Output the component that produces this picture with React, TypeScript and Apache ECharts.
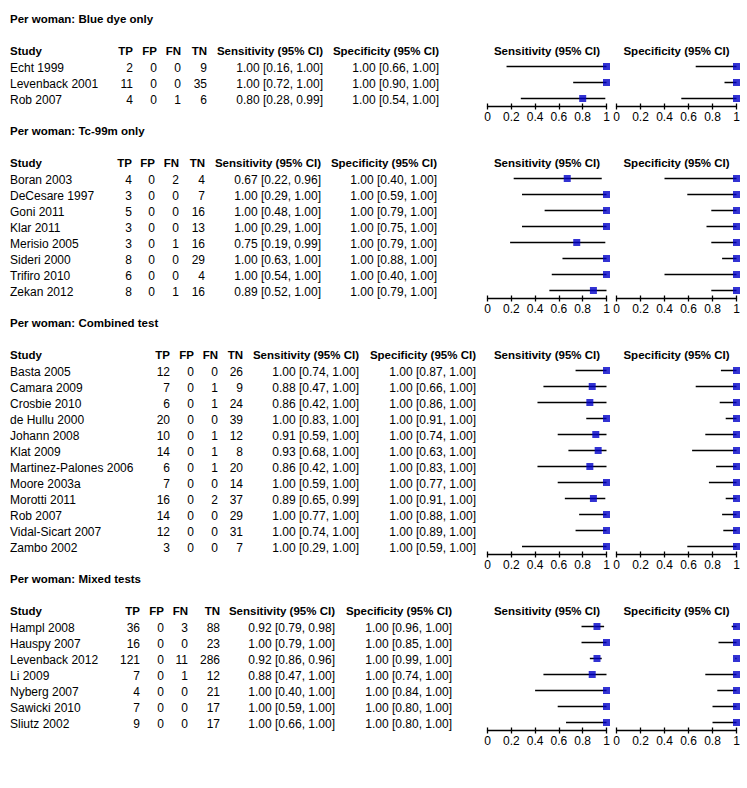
import React, { useEffect, useRef } from "react";
import * as echarts from "echarts";

// ---------- DATA ----------
const sectionTitles = [
  "Per woman: Blue dye only",
  "Per woman: Tc-99m only",
  "Per woman: Combined test",
  "Per woman: Mixed tests",
];

const tableHeaders = ["TP", "FP", "FN", "TN", "Sensitivity (95% CI)", "Specificity (95% CI)"];
const plotHeaders = ["Sensitivity (95% CI)", "Specificity (95% CI)"];
const tickValues = [0, 0.2, 0.4, 0.6, 0.8, 1];

// Blue dye only
const blueStudies = ["Echt 1999", "Levenback 2001", "Rob 2007"];
const blueTP = [2, 11, 4];
const blueFP = [0, 0, 0];
const blueFN = [0, 0, 1];
const blueTN = [9, 35, 6];
const blueSens = [1.0, 1.0, 0.8];
const blueSensLo = [0.16, 0.72, 0.28];
const blueSensHi = [1.0, 1.0, 0.99];
const blueSpec = [1.0, 1.0, 1.0];
const blueSpecLo = [0.66, 0.9, 0.54];
const blueSpecHi = [1.0, 1.0, 1.0];

// Tc-99m only
const tcStudies = ["Boran 2003", "DeCesare 1997", "Goni 2011", "Klar 2011", "Merisio 2005", "Sideri 2000", "Trifiro 2010", "Zekan 2012"];
const tcTP = [4, 3, 5, 3, 3, 8, 6, 8];
const tcFP = [0, 0, 0, 0, 0, 0, 0, 0];
const tcFN = [2, 0, 0, 0, 1, 0, 0, 1];
const tcTN = [4, 7, 16, 13, 16, 29, 4, 16];
const tcSens = [0.67, 1.0, 1.0, 1.0, 0.75, 1.0, 1.0, 0.89];
const tcSensLo = [0.22, 0.29, 0.48, 0.29, 0.19, 0.63, 0.54, 0.52];
const tcSensHi = [0.96, 1.0, 1.0, 1.0, 0.99, 1.0, 1.0, 1.0];
const tcSpec = [1.0, 1.0, 1.0, 1.0, 1.0, 1.0, 1.0, 1.0];
const tcSpecLo = [0.4, 0.59, 0.79, 0.75, 0.79, 0.88, 0.4, 0.79];
const tcSpecHi = [1.0, 1.0, 1.0, 1.0, 1.0, 1.0, 1.0, 1.0];

// Combined test
const combStudies = ["Basta 2005", "Camara 2009", "Crosbie 2010", "de Hullu 2000", "Johann 2008", "Klat 2009", "Martinez-Palones 2006", "Moore 2003a", "Morotti 2011", "Rob 2007", "Vidal-Sicart 2007", "Zambo 2002"];
const combTP = [12, 7, 6, 20, 10, 14, 6, 7, 16, 14, 12, 3];
const combFP = [0, 0, 0, 0, 0, 0, 0, 0, 0, 0, 0, 0];
const combFN = [0, 1, 1, 0, 1, 1, 1, 0, 2, 0, 0, 0];
const combTN = [26, 9, 24, 39, 12, 8, 20, 14, 37, 29, 31, 7];
const combSens = [1.0, 0.88, 0.86, 1.0, 0.91, 0.93, 0.86, 1.0, 0.89, 1.0, 1.0, 1.0];
const combSensLo = [0.74, 0.47, 0.42, 0.83, 0.59, 0.68, 0.42, 0.59, 0.65, 0.77, 0.74, 0.29];
const combSensHi = [1.0, 1.0, 1.0, 1.0, 1.0, 1.0, 1.0, 1.0, 0.99, 1.0, 1.0, 1.0];
const combSpec = [1.0, 1.0, 1.0, 1.0, 1.0, 1.0, 1.0, 1.0, 1.0, 1.0, 1.0, 1.0];
const combSpecLo = [0.87, 0.66, 0.86, 0.91, 0.74, 0.63, 0.83, 0.77, 0.91, 0.88, 0.89, 0.59];
const combSpecHi = [1.0, 1.0, 1.0, 1.0, 1.0, 1.0, 1.0, 1.0, 1.0, 1.0, 1.0, 1.0];

// Mixed tests
const mixStudies = ["Hampl 2008", "Hauspy 2007", "Levenback 2012", "Li 2009", "Nyberg 2007", "Sawicki 2010", "Sliutz 2002"];
const mixTP = [36, 16, 121, 7, 4, 7, 9];
const mixFP = [0, 0, 0, 0, 0, 0, 0];
const mixFN = [3, 0, 11, 1, 0, 0, 0];
const mixTN = [88, 23, 286, 12, 21, 17, 17];
const mixSens = [0.92, 1.0, 0.92, 0.88, 1.0, 1.0, 1.0];
const mixSensLo = [0.79, 0.79, 0.86, 0.47, 0.4, 0.59, 0.66];
const mixSensHi = [0.98, 1.0, 0.96, 1.0, 1.0, 1.0, 1.0];
const mixSpec = [1.0, 1.0, 1.0, 1.0, 1.0, 1.0, 1.0];
const mixSpecLo = [0.96, 0.85, 0.99, 0.74, 0.84, 0.8, 0.8];
const mixSpecHi = [1.0, 1.0, 1.0, 1.0, 1.0, 1.0, 1.0];

const sections = [
  { title: sectionTitles[0], studies: blueStudies, tp: blueTP, fp: blueFP, fn: blueFN, tn: blueTN, sens: blueSens, sensLo: blueSensLo, sensHi: blueSensHi, spec: blueSpec, specLo: blueSpecLo, specHi: blueSpecHi },
  { title: sectionTitles[1], studies: tcStudies, tp: tcTP, fp: tcFP, fn: tcFN, tn: tcTN, sens: tcSens, sensLo: tcSensLo, sensHi: tcSensHi, spec: tcSpec, specLo: tcSpecLo, specHi: tcSpecHi },
  { title: sectionTitles[2], studies: combStudies, tp: combTP, fp: combFP, fn: combFN, tn: combTN, sens: combSens, sensLo: combSensLo, sensHi: combSensHi, spec: combSpec, specLo: combSpecLo, specHi: combSpecHi },
  { title: sectionTitles[3], studies: mixStudies, tp: mixTP, fp: mixFP, fn: mixFN, tn: mixTN, sens: mixSens, sensLo: mixSensLo, sensHi: mixSensHi, spec: mixSpec, specLo: mixSpecLo, specHi: mixSpecHi },
];

// ---------- LAYOUT ----------
const FONT = 'Arial, "Liberation Sans", sans-serif';
const ROW_H = 16;
const FIRST_ROW = 66;
const colRight = [
  [133, 157, 181, 207, 323, 439],
  [132, 155, 179, 205, 321, 437],
  [170, 194, 218, 243, 359, 476],
  [140, 164, 188, 220, 335, 452],
];
const plotLeft = [487.5, 616.5];
const plotWidth = [119, 120];
const BLUE = "#0000c8";

const fmtCI = (v: number, lo: number, hi: number) => `${v.toFixed(2)} [${lo.toFixed(2)}, ${hi.toFixed(2)}]`;

function buildOption() {
  const graphics: any[] = [];
  const grids: any[] = [];
  const xAxes: any[] = [];
  const yAxes: any[] = [];
  const series: any[] = [];

  const txt = (text: string, x: number, y: number, align: string, bold = false) => ({
    type: "text",
    x,
    y,
    silent: true,
    style: {
      text,
      fill: "#000",
      fontFamily: FONT,
      fontSize: bold ? 11.5 : 12,
      fontWeight: bold ? "bold" : "normal",
      align,
      verticalAlign: "middle",
    },
  });

  let row1 = FIRST_ROW;
  sections.forEach((s, si) => {
    const n = s.studies.length;
    const cols = colRight[si];
    graphics.push(txt(s.title, 10, row1 - 47.5, "left", true));
    const hy = row1 - 15.3;
    graphics.push(txt("Study", 10, hy, "left", true));
    tableHeaders.forEach((h, ci) => graphics.push(txt(h, cols[ci], hy, "right", true)));
    plotHeaders.forEach((h, pi) => graphics.push(txt(h, plotLeft[pi] + plotWidth[pi] / 2, hy, "center", true)));

    s.studies.forEach((name, i) => {
      const y = row1 + i * ROW_H + 1.5;
      graphics.push(txt(name, 10, y, "left"));
      const vals = [
        String(s.tp[i]),
        String(s.fp[i]),
        String(s.fn[i]),
        String(s.tn[i]),
        fmtCI(s.sens[i], s.sensLo[i], s.sensHi[i]),
        fmtCI(s.spec[i], s.specLo[i], s.specHi[i]),
      ];
      vals.forEach((v, ci) => graphics.push(txt(v, cols[ci], y, "right")));
    });

    const top = row1 - ROW_H / 2 + 0.5;
    const height = n * ROW_H;
    [0, 1].forEach((pi) => {
      const gi = grids.length;
      grids.push({ left: plotLeft[pi], top, width: plotWidth[pi], height, containLabel: false });
      const xi = xAxes.length;
      xAxes.push({
        gridIndex: gi,
        type: "value",
        min: 0,
        max: 1,
        interval: 0.2,
        position: "bottom",
        axisLine: { show: true, lineStyle: { color: "#000", width: 1.3 } },
        axisTick: { show: true, length: 3, lineStyle: { color: "#000", width: 1.3 } },
        axisLabel: {
          show: true,
          margin: 4,
          color: "#000",
          fontFamily: FONT,
          fontSize: 12,
          formatter: (v: number) => {
            const t = tickValues.find((tv) => Math.abs(tv - v) < 1e-6);
            return t === undefined ? "" : String(t);
          },
        },
        splitLine: { show: false },
      });
      xAxes.push({
        gridIndex: gi,
        type: "value",
        min: 0,
        max: 1,
        interval: 0.2,
        position: "bottom",
        axisLine: { show: false },
        axisTick: { show: true, inside: true, length: 3, lineStyle: { color: "#000", width: 1.3 } },
        axisLabel: { show: false },
        splitLine: { show: false },
      });
      yAxes.push({
        gridIndex: gi,
        type: "category",
        data: s.studies,
        inverse: true,
        show: false,
      });
      const pt = pi === 0 ? s.sens : s.spec;
      const lo = pi === 0 ? s.sensLo : s.specLo;
      const hi = pi === 0 ? s.sensHi : s.specHi;
      series.push({
        type: "custom",
        coordinateSystem: "cartesian2d",
        xAxisIndex: xi,
        yAxisIndex: gi,
        clip: false,
        silent: true,
        encode: { x: [0, 1], y: 2 },
        data: s.studies.map((_, i) => [lo[i], hi[i], i]),
        renderItem: (params: any, api: any) => {
          const a = api.coord([api.value(0), api.value(2)]);
          const b = api.coord([api.value(1), api.value(2)]);
          return {
            type: "line",
            shape: { x1: a[0], y1: a[1], x2: b[0], y2: b[1] },
            style: { stroke: "#000", lineWidth: 1.5 },
          };
        },
      });
      series.push({
        type: "scatter",
        xAxisIndex: xi,
        yAxisIndex: gi,
        clip: false,
        silent: true,
        symbol: "rect",
        symbolSize: 7,
        itemStyle: { color: BLUE },
        data: s.studies.map((_, i) => [pt[i], i]),
        z: 3,
      });
    });

    row1 = row1 + (n - 1) * ROW_H + 8 + 72;
  });

  return {
    animation: false,
    backgroundColor: "#fff",
    grid: grids,
    xAxis: xAxes,
    yAxis: yAxes,
    series,
    graphic: graphics,
  };
}

export default function App() {
  const ref = useRef<HTMLDivElement>(null);
  useEffect(() => {
    document.body.style.margin = "0";
    if (!ref.current) return;
    const chart = echarts.init(ref.current, undefined, { renderer: "svg" });
    chart.setOption(buildOption() as any);
    return () => chart.dispose();
  }, []);
  return <div ref={ref} style={{ width: 747, height: 788, background: "#fff" }} />;
}
